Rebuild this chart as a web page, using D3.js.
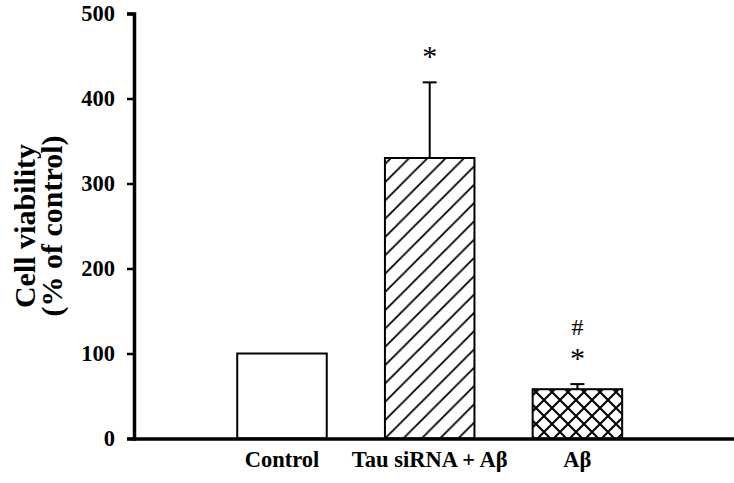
<!DOCTYPE html>
<html>
<head>
<meta charset="utf-8">
<script src="https://cdn.jsdelivr.net/npm/d3@7"></script>
<style>
  html, body { margin: 0; padding: 0; background: #fff; }
  svg { display: block; }
</style>
</head>
<body>
<svg id="chart" width="734" height="483"></svg>
<script>
// ---- data ----
const categories = ["Control", "Tau siRNA + A\u03B2", "A\u03B2"];
const values = [100, 330, 58];
const errors = [0, 89, 6];
const fills = ["none", "diag", "cross"];
const markTop = ["", "", "#"];
const markStar = ["", "*", "*"];
const yTicks = [0, 100, 200, 300, 400, 500];

const W = 734, H = 483;
const mLeft = 134, mTop = 13.5, mBottom = 438.5;
const serif = "'Liberation Serif', 'Times New Roman', serif";

const svg = d3.select("#chart");
const defs = svg.append("defs");

// hatch patterns
const pd = defs.append("pattern").attr("id", "diag")
  .attr("patternUnits", "userSpaceOnUse").attr("width", 18.3).attr("height", 18.3);
pd.append("rect").attr("width", 18.3).attr("height", 18.3).attr("fill", "#fff");
pd.append("path").attr("d", "M-4.6,4.6 L4.6,-4.6 M0,18.3 L18.3,0 M13.7,22.9 L22.9,13.7")
  .attr("stroke", "#000").attr("stroke-width", 1.8);

const pc = defs.append("pattern").attr("id", "cross")
  .attr("patternUnits", "userSpaceOnUse").attr("width", 16).attr("height", 16);
pc.append("rect").attr("width", 16).attr("height", 16).attr("fill", "#fff");
pc.append("path").attr("d", "M-4,4 L4,-4 M0,16 L16,0 M12,20 L20,12 M-4,12 L4,20 M0,0 L16,16 M12,-4 L20,4")
  .attr("stroke", "#000").attr("stroke-width", 2);

const x = d3.scaleBand().domain(categories).range([mLeft, W])
  .paddingInner(0.394).paddingOuter(0.728).align(0.48);
const y = d3.scaleLinear().domain([0, 500]).range([mBottom, mTop]);

// bars
const g = svg.append("g");
categories.forEach((c, i) => {
  const x0 = x(c), bw = x.bandwidth(), cx = x0 + bw / 2;
  g.append("rect")
    .attr("x", x0).attr("y", y(values[i]))
    .attr("width", bw).attr("height", y(0) - y(values[i]))
    .attr("fill", fills[i] === "none" ? "#fff" : `url(#${fills[i]})`)
    .attr("stroke", "#000").attr("stroke-width", 2);
  if (errors[i] > 0) {
    g.append("line").attr("x1", cx).attr("x2", cx)
      .attr("y1", y(values[i])).attr("y2", y(values[i] + errors[i]))
      .attr("stroke", "#000").attr("stroke-width", 2);
    g.append("line").attr("x1", cx - 7).attr("x2", cx + 7)
      .attr("y1", y(values[i] + errors[i])).attr("y2", y(values[i] + errors[i]))
      .attr("stroke", "#000").attr("stroke-width", 2);
  }
  const topVal = values[i] + errors[i];
  if (markTop[i]) {
    g.append("text").attr("text-anchor", "middle").style("font-family", serif)
      .attr("x", cx).attr("y", y(topVal) - 49)
      .style("font-size", "24px").text(markTop[i]);
  }
  if (markStar[i]) {
    g.append("text").attr("text-anchor", "middle").style("font-family", serif)
      .attr("x", cx).attr("y", y(topVal) - 16)
      .style("font-size", "30px").text(markStar[i]);
  }
});

// y axis
const yAxis = svg.append("g").attr("transform", `translate(${mLeft},0)`)
  .call(d3.axisLeft(y).tickValues(yTicks).tickSizeOuter(0).tickSize(7).tickPadding(12));
yAxis.select(".domain").attr("stroke-width", 3.5);
yAxis.selectAll(".tick line").attr("stroke-width", 2.5);
yAxis.selectAll(".tick text")
  .style("font-family", serif)
  .style("font-weight", "bold").style("font-size", "22.5px").attr("fill", "#000");

// x axis
const xAxis = svg.append("g").attr("transform", `translate(0,${mBottom})`)
  .call(d3.axisBottom(x).tickSize(0).tickSizeOuter(0).tickPadding(13));
xAxis.select(".domain").attr("d", `M${mLeft - 1.75},0.5H${W}`).attr("stroke-width", 3.5);
xAxis.selectAll(".tick text")
  .style("font-family", serif)
  .style("font-weight", "bold").style("font-size", "22.5px").attr("fill", "#000");

// y label
const yl = svg.append("text")
  .attr("transform", `translate(35,${(mTop + mBottom) / 2}) rotate(-90)`)
  .attr("text-anchor", "middle")
  .style("font-family", serif)
  .style("font-weight", "bold").style("font-size", "30px");
yl.append("tspan").attr("x", 0).attr("dy", 0).text("Cell viability");
yl.append("tspan").attr("x", 0).attr("dy", 27).text("(% of control)");
</script>
</body>
</html>
